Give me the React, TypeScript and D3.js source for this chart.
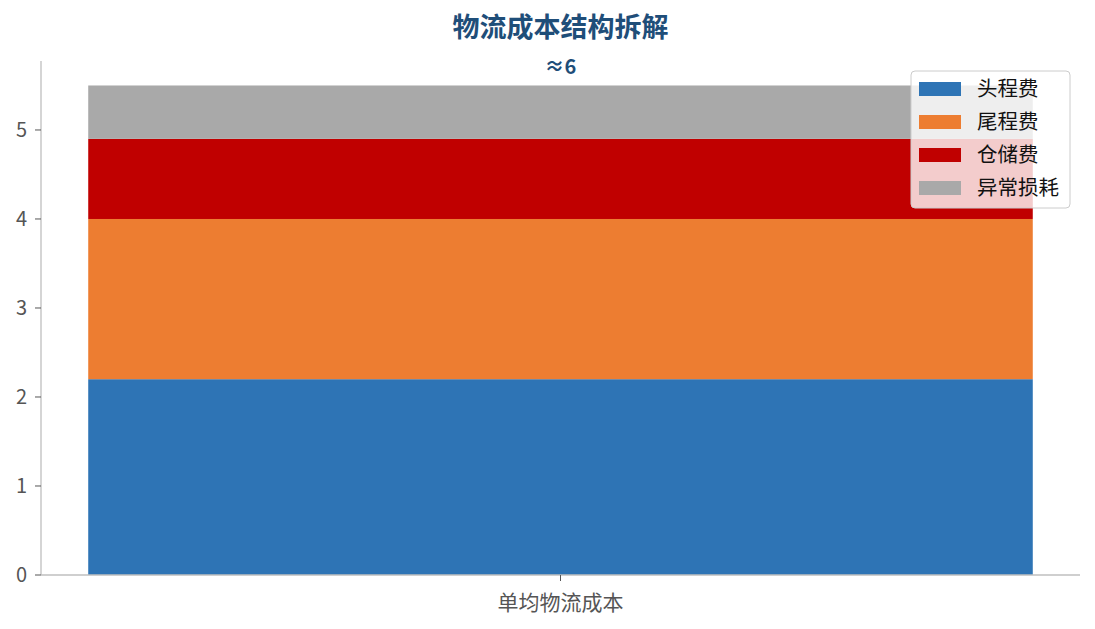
import React from 'react'
import * as d3 from 'd3'

const categories = ['单均物流成本']
const seriesNames = ['头程费', '尾程费', '仓储费', '异常损耗']
const seriesValues = [[2.2], [1.8], [0.9], [0.6]]
const seriesColors = ['#2e74b5', '#ed7d31', '#c00000', '#a9a9a9']
const totalLabels = ['≈6']
const yTicks = [0, 1, 2, 3, 4, 5]

const W = 1095
const H = 629
const margin = { top: 61, right: 15, bottom: 54, left: 41 }
const FONT = '"Noto Sans CJK SC", "Noto Sans", sans-serif'

export default function App() {
    const x0 = margin.left
    const x1 = W - margin.right
    const y0 = H - margin.bottom

    const totals = categories.map((_, i) => d3.sum(seriesValues, s => s[i]))
    const yMax = d3.max(totals)! * 1.05

    const xScale = d3.scaleLinear().domain([-0.44, categories.length - 1 + 0.44]).range([x0, x1])
    const yScale = d3.scaleLinear().domain([0, yMax]).range([y0, margin.top])
    const barW = xScale(0.8) - xScale(0)

    // stacked layout
    const rows = categories.map((c, i) => {
        const r: any = { cat: c }
        seriesNames.forEach((n, k) => (r[n] = seriesValues[k][i]))
        return r
    })
    const stack = d3.stack<any>().keys(seriesNames)(rows)

    return (
        <svg width={W} height={H} style={{ position: 'absolute', left: 0, top: 0, fontFamily: FONT }}>
            <rect width={W} height={H} fill="#fff" />
            <text x={(x0 + x1) / 2} y={37} textAnchor="middle" fontSize={27} fontWeight="bold" fill="#1f4e79">
                物流成本结构拆解
            </text>

            {stack.map((layer, k) =>
                layer.map((d, i) => (
                    <rect
                        key={`${k}-${i}`}
                        x={xScale(i) - barW / 2}
                        y={yScale(d[1])}
                        width={barW}
                        height={yScale(d[0]) - yScale(d[1])}
                        fill={seriesColors[k]}
                    />
                ))
            )}

            {totals.map((t, i) => (
                <text key={i} x={xScale(i)} y={yScale(t) - 11} textAnchor="middle" fontSize={20} fontWeight="bold" fill="#1f4e79">
                    {totalLabels[i]}
                </text>
            ))}

            {/* spines */}
            <line x1={x0} x2={x0} y1={margin.top} y2={y0} stroke="#bfbfbf" strokeWidth={1.3} />
            <line x1={x0} x2={x1} y1={y0} y2={y0} stroke="#bfbfbf" strokeWidth={1.3} />

            {yTicks.map(t => (
                <g key={t} transform={`translate(${x0},${yScale(t)})`}>
                    <line x1={-6} x2={0} stroke="#555" strokeWidth={1} />
                    <text x={-14} dy="0.35em" textAnchor="end" fontSize={20} fill="#555">
                        {t}
                    </text>
                </g>
            ))}

            {categories.map((c, i) => (
                <g key={c} transform={`translate(${xScale(i)},${y0})`}>
                    <line y1={0} y2={6} stroke="#555" strokeWidth={1} />
                    <text y={35} textAnchor="middle" fontSize={21} fill="#555">
                        {c}
                    </text>
                </g>
            ))}

            {/* legend */}
            <g transform="translate(911,71)">
                <rect width={159} height={137} rx={4} fill="#fff" fillOpacity={0.8} stroke="#cccccc" strokeWidth={1} />
                {seriesNames.map((n, k) => (
                    <g key={n} transform={`translate(0,${18 + k * 33})`}>
                        <rect x={8} y={-7} width={42} height={14} fill={seriesColors[k]} />
                        <text x={66} dy="0.35em" fontSize={20.5} fill="#111">
                            {n}
                        </text>
                    </g>
                ))}
            </g>
        </svg>
    )
}
